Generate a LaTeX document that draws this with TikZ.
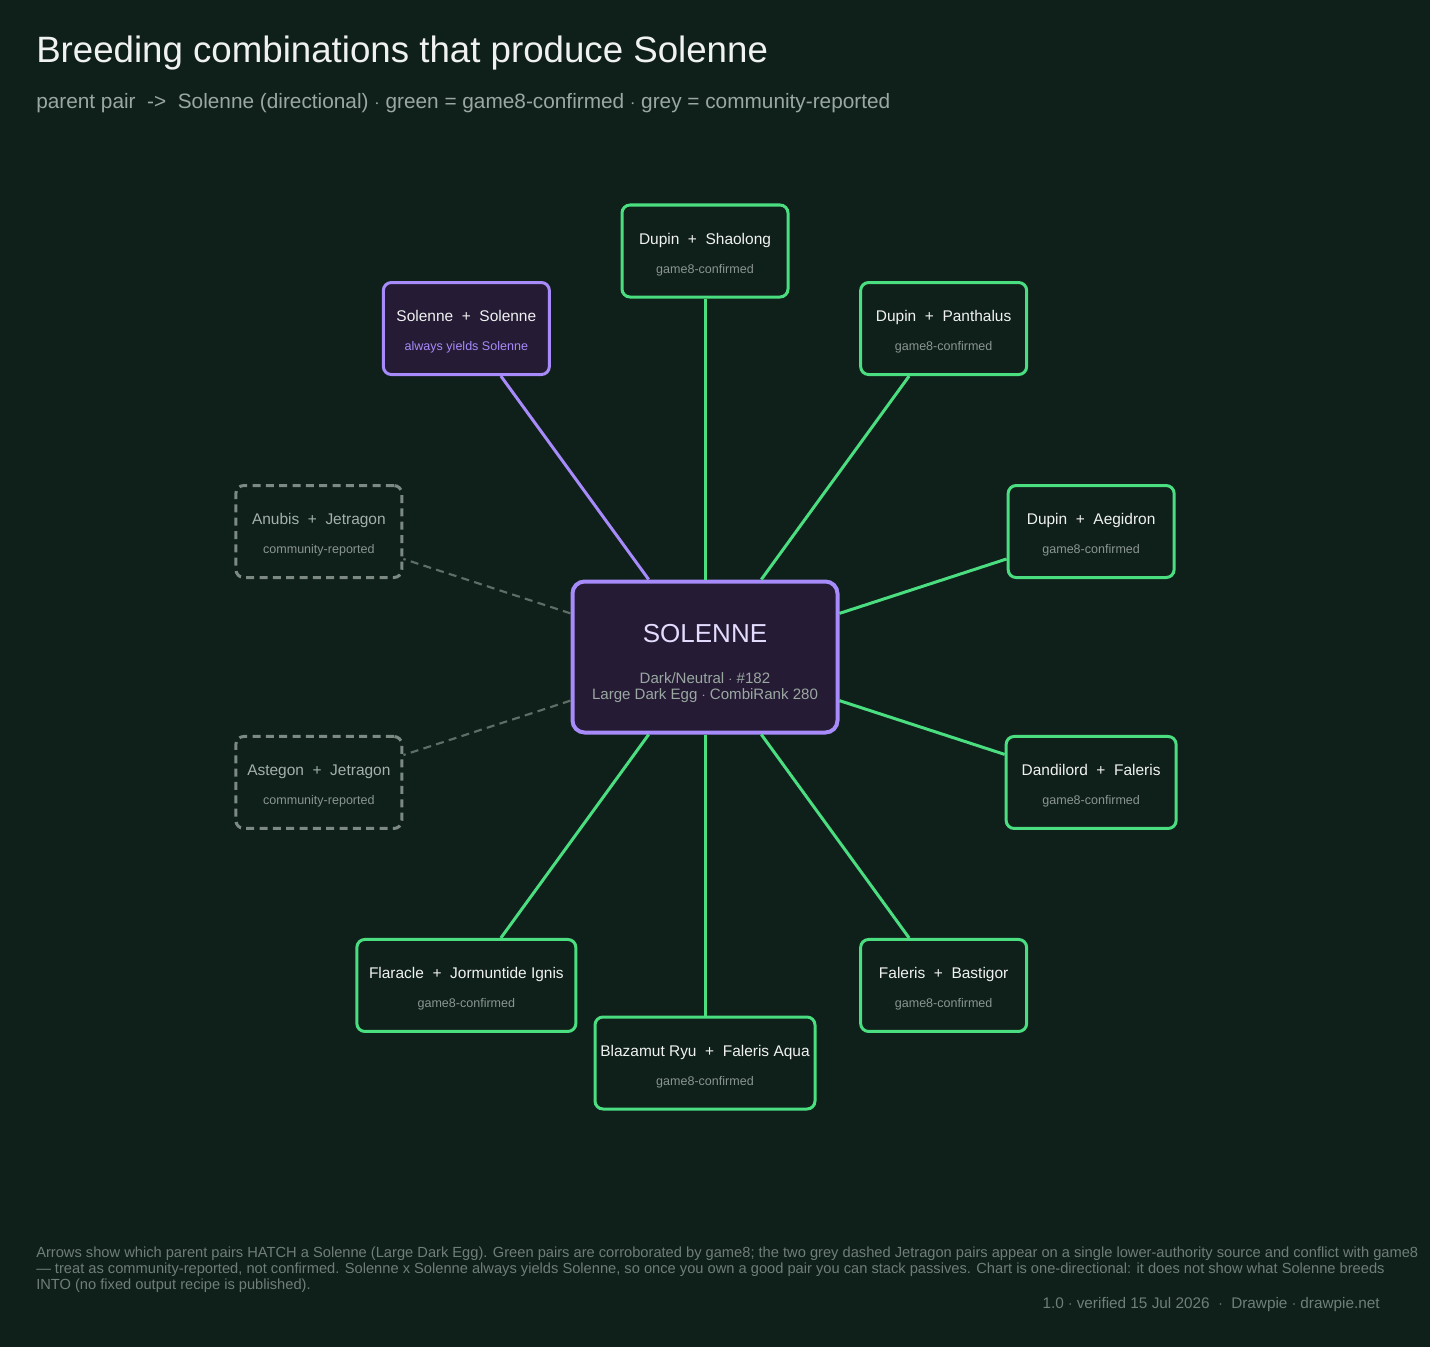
\documentclass[tikz,border=0pt]{standalone}
\usepackage{fontspec}
\setmainfont{Liberation Sans}
\usepackage{xcolor}
\usepackage{tikz}
\usetikzlibrary{positioning}

\definecolor{bgdark}{HTML}{0F1F1A}
\definecolor{confgreen}{HTML}{4ADE80}
\definecolor{solpurple}{HTML}{A78BFA}
\definecolor{solfill}{HTML}{251B35}
\definecolor{commgrey}{HTML}{7C8A83}
\definecolor{commline}{HTML}{5E6E67}
\definecolor{subgrey}{HTML}{8A9690}
\definecolor{titlewhite}{HTML}{F0F2F1}
\definecolor{notegrey}{HTML}{9AA8A1}
\definecolor{footgrey}{HTML}{6F7E77}

\newcommand{\sublbl}[2][subgrey]{{\fontsize{9.4}{11}\selectfont\color{#1}#2}}
\newcommand{\pairtxt}[3]{\rule{0pt}{13.5pt}#1\ \ +\ \ #2\\[8.25pt]#3}

\begin{document}
\begin{tikzpicture}[x=0.75pt, y=0.75pt,
  pair/.style={draw=confgreen, line width=2.25pt, rounded corners=6pt,
               fill=bgdark, text=titlewhite, align=center,
               minimum width=124.5pt, minimum height=69pt, inner sep=2pt,
               font=\fontsize{11.6}{13.5}\selectfont},
  selfpair/.style={pair, draw=solpurple, fill=solfill},
  commpair/.style={pair, draw=commgrey, dash pattern=on 6pt off 4pt,
                   text=notegrey!90!white},
  centre/.style={draw=solpurple, line width=3pt, rounded corners=9pt,
                 fill=solfill, align=center,
                 minimum width=198.75pt, minimum height=113.25pt},
  conn/.style={confgreen, line width=2.25pt},
  connself/.style={solpurple, line width=2.25pt},
  conncomm/.style={commline, line width=1.6pt, dash pattern=on 6pt off 4pt}]

  \fill[bgdark] (-705,-690) rectangle (725,657);
  \useasboundingbox (-705,-690) rectangle (725,657);

  \node[anchor=base west, inner sep=0pt, text=titlewhite,
        font=\fontsize{27.5}{32}\selectfont]
    (title) at (-669,594) {Breeding combinations that produce Solenne};
  \node[anchor=base west, inner sep=0pt, text=notegrey,
        font=\fontsize{15.6}{18}\selectfont]
    (subtitle) at (-669,548)
    {parent pair\ \ ->\ \ Solenne (directional) $\cdot$ green = game8-confirmed $\cdot$ grey = community-reported};

  \node[centre] (sol) at (0,0)
    {\rule{0pt}{23pt}{\fontsize{19.5}{23}\selectfont\color{solpurple!30!white}SOLENNE}\\[18.5pt]
     {\fontsize{11.3}{12}\selectfont\color{notegrey}Dark/Neutral $\cdot$ \#182}\\
     {\fontsize{11.3}{12}\selectfont\color{notegrey}Large Dark Egg $\cdot$ CombiRank 280}};

  % ten parent pairs round the centre, 36 degrees apart
  \node[pair] (shaolong) at (90:406)
    {\pairtxt{Dupin}{Shaolong}{\sublbl{game8-confirmed}}};
  \node[pair] (panthalus) at (54:406)
    {\pairtxt{Dupin}{Panthalus}{\sublbl{game8-confirmed}}};
  \node[pair] (aegidron) at (18:406)
    {\pairtxt{Dupin}{Aegidron}{\sublbl{game8-confirmed}}};
  \node[pair, minimum width=127.5pt] (dandilord) at (-18:406)
    {\pairtxt{Dandilord}{Faleris}{\sublbl{game8-confirmed}}};
  \node[pair] (bastigor) at (-54:406)
    {\pairtxt{Faleris}{Bastigor}{\sublbl{game8-confirmed}}};
  \node[pair, minimum width=165pt] (blazamut) at (-90:406)
    {\pairtxt{Blazamut Ryu}{Faleris Aqua}{\sublbl{game8-confirmed}}};
  \node[pair, minimum width=164.25pt] (flaracle) at (-126:406)
    {\pairtxt{Flaracle}{Jormuntide Ignis}{\sublbl{game8-confirmed}}};
  \node[commpair] (astegon) at (-162:406)
    {\pairtxt{Astegon}{Jetragon}{\sublbl{community-reported}}};
  \node[commpair] (anubis) at (162:406)
    {\pairtxt{Anubis}{Jetragon}{\sublbl{community-reported}}};
  \node[selfpair] (self) at (126:406)
    {\pairtxt{Solenne}{Solenne}{\sublbl[solpurple]{always yields Solenne}}};

  \draw[conn] (sol) -- (shaolong);
  \draw[conn] (sol) -- (panthalus);
  \draw[conn] (sol) -- (aegidron);
  \draw[conn] (sol) -- (dandilord);
  \draw[conn] (sol) -- (bastigor);
  \draw[conn] (sol) -- (blazamut);
  \draw[conn] (sol) -- (flaracle);
  \draw[conncomm] (sol) -- (astegon);
  \draw[conncomm] (sol) -- (anubis);
  \draw[connself] (sol) -- (self);

  \node[anchor=base west, inner sep=0pt, align=left, text=footgrey,
        font=\fontsize{11}{12}\selectfont] (note) at (-669,-632)
    {Arrows show which parent pairs HATCH a Solenne (Large Dark Egg). Green pairs are corroborated by game8; the two grey dashed Jetragon pairs appear on a single lower-authority source and conflict with game8\\
     --- treat as community-reported, not confirmed. Solenne x Solenne always yields Solenne, so once you own a good pair you can stack passives. Chart is one-directional: it does not show what Solenne breeds\\
     INTO (no fixed output recipe is published).};
  \node[anchor=base east, inner sep=0pt, text=footgrey,
        font=\fontsize{11.5}{12}\selectfont]
    (foot) at (675,-651)
    {1.0 $\cdot$ verified 15 Jul 2026\ \ $\cdot$\ \ Drawpie $\cdot$ drawpie.net};
\end{tikzpicture}
\end{document}
